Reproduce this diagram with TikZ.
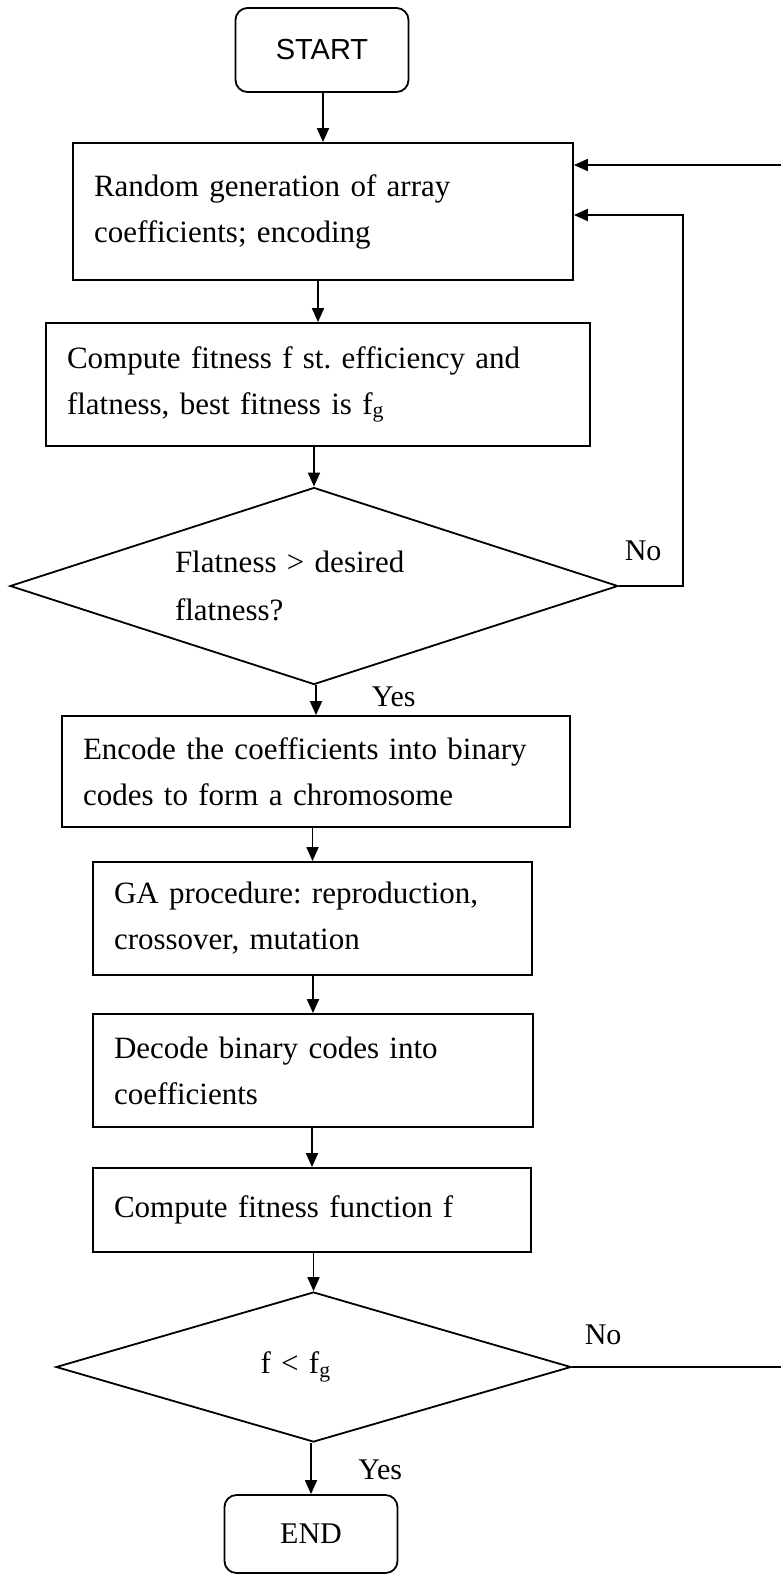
\documentclass[tikz,border=0pt]{standalone}
\usepackage{fontspec}
\setmainfont{Liberation Serif}
\newfontfamily\capsfont{Liberation Sans}
\usetikzlibrary{shapes.geometric,arrows.meta}
\frenchspacing
\begin{document}
\begin{tikzpicture}[x=1pt,y=-1pt,line width=1.8pt,
	flow/.style={-{Triangle[length=14pt,width=12pt]}},
	stage/.style={draw, rectangle, align=left, inner xsep=21pt, font=\fontsize{31}{46}\selectfont},
	term/.style={draw, rectangle, rounded corners=12pt, minimum width=173pt},
	test/.style={draw, diamond, inner sep=0pt, align=left, font=\fontsize{31}{48}\selectfont},
	lbl/.style={font=\fontsize{30}{30}\selectfont, inner sep=0pt, anchor=base west}]
	\useasboundingbox (0,0) rectangle (780,1575);

	\node[term, minimum height=84pt, font=\capsfont\fontsize{29}{29}\selectfont] (start) at (322,50) {START};
	\node[stage, text width=458pt, minimum height=137pt] (gen) at (323,211.5) {Random generation of array\\coefficients; encoding};
	\node[stage, text width=502pt, minimum height=123pt] (fit) at (318,384.5) {Compute fitness f st. efficiency and\\flatness, best fitness is f\textsubscript{g}};
	\node[test, aspect=3.09, text width=278pt, minimum width=608pt, minimum height=197pt] (flat) at (314,586) {Flatness > desired\\flatness?};
	\node[stage, text width=466pt, minimum height=111pt] (enc) at (316,771.5) {Encode the coefficients into binary\\codes to form a chromosome};
	\node[stage, text width=397pt, minimum height=113pt] (ga) at (312.5,918.5) {GA procedure: reproduction,\\crossover, mutation};
	\node[stage, text width=398pt, minimum height=113pt] (dec) at (313,1070.5) {Decode binary codes into\\coefficients};
	\node[stage, text width=396pt, minimum height=84pt] (fitf) at (312,1210) {Compute fitness function f};
	\node[test, aspect=3.43, text width=106pt, minimum width=515pt, minimum height=150pt] (less) at (313.5,1367) {f < f\textsubscript{g}};
	\node[term, minimum height=78pt, font=\fontsize{30}{30}\selectfont] (end) at (311,1534) {END};

	\foreach \a/\b in {start/gen, gen/fit, fit/flat, flat/enc, enc/ga, ga/dec, dec/fitf, fitf/less, less/end}
		\draw[flow] (\b.north |- \a.south) -- (\b.north);

	% loops back to the first box
	\coordinate (backa) at (683,215);
	\coordinate (backb) at (783,165);
	\draw[flow] (flat.east) -| (backa) -- (gen.east |- backa);
	\draw[flow] (less.east) -| (backb) -- (gen.east |- backb);

	\node[lbl] (no1) at ([shift={(5,-26)}]flat.east) {No};
	\node[lbl] (yes1) at ([shift={(57,21)}]flat.south) {Yes};
	\node[lbl] (no2) at ([shift={(12,-23)}]less.east) {No};
	\node[lbl] (yes2) at ([shift={(44,37)}]less.south) {Yes};
\end{tikzpicture}
\end{document}
